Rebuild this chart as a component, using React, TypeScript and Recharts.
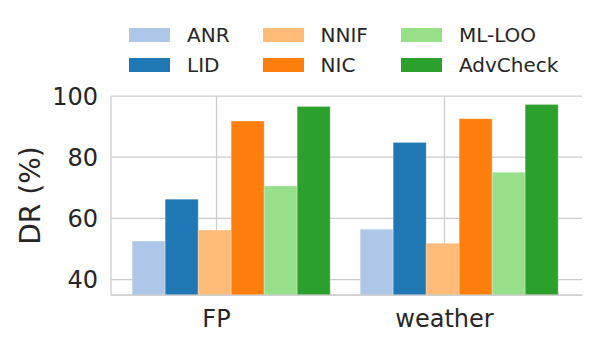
import { BarChart, Bar, XAxis, YAxis, CartesianGrid, Legend } from 'recharts';

const categories = ['FP', 'weather'];
const anr = [52.6, 56.5];
const lid = [66.3, 84.8];
const nnif = [56.2, 51.9];
const nic = [91.8, 92.6];
const mlLoo = [70.6, 75.1];
const advCheck = [96.6, 97.2];
const yTicks = [40, 60, 80, 100];

const series = [
    { key: 'ANR', values: anr, color: '#aec7e8' },
    { key: 'LID', values: lid, color: '#1f77b4' },
    { key: 'NNIF', values: nnif, color: '#ffbb78' },
    { key: 'NIC', values: nic, color: '#ff7f0e' },
    { key: 'ML-LOO', values: mlLoo, color: '#98df8a' },
    { key: 'AdvCheck', values: advCheck, color: '#2ca02c' },
];
const seriesOrder = series.map(s => s.key);

const data = categories.map((name, i) => {
    const row: Record<string, string | number> = { name };
    series.forEach(s => { row[s.key] = s.values[i]; });
    return row;
});

const FONT = '"DejaVu Sans", sans-serif';
const TEXT = '#262626';
const EDGE = '#cccccc';
const X_PAD = 7.5;
// matplotlib puts the tick a bit left of the group centre
const TICK_SHIFT = -16;

const XTick = (props: any) => {
    const { x, y, payload } = props;
    return (
        <text x={x + TICK_SHIFT} y={y} dy="0.71em" textAnchor="middle"
            fontFamily={FONT} fontSize={24} fill={TEXT}>
            {payload.value}
        </text>
    );
};

const LegendGrid = (props: any) => {
    const items = (props.payload || []).slice()
        .sort((a: any, b: any) => seriesOrder.indexOf(a.value) - seriesOrder.indexOf(b.value));
    return (
        <div style={{
            display: 'grid', gridTemplateRows: '30px 30px', gridAutoFlow: 'column',
            gridAutoColumns: 'max-content', columnGap: 33, whiteSpace: 'nowrap',
            fontFamily: FONT, fontSize: 20, color: TEXT,
        }}>
            {items.map((it: any) => (
                <div key={it.value} style={{ display: 'flex', alignItems: 'center' }}>
                    <span style={{ width: 41, height: 14, background: it.color, marginRight: 17, display: 'inline-block' }} />
                    <span>{it.value}</span>
                </div>
            ))}
        </div>
    );
};

const YLabel = (props: any) => {
    const { viewBox } = props;
    const cy = viewBox.y + viewBox.height / 2;
    return (
        <text x={22} y={cy} transform={`rotate(-90, 22, ${cy})`} textAnchor="middle"
            dominantBaseline="central" fontFamily={FONT} fontSize={28} fill={TEXT}>
            DR (%)
        </text>
    );
};

// vertical grid lines sit under the (shifted) tick labels
const gridX = ({ offset }: any) => {
    const band = (offset.width - 2 * X_PAD) / categories.length;
    return categories.map((_, i) => offset.left + X_PAD + band * (i + 0.5) + TICK_SHIFT);
};

export default function App() {
    return (
        <BarChart width={584} height={334} data={data}
            margin={{ top: 88, right: 10, left: 28, bottom: 7 }}
            barCategoryGap="6%" barGap={0}>
            <CartesianGrid stroke={EDGE} strokeWidth={1.25} verticalCoordinatesGenerator={gridX} />
            <XAxis dataKey="name" height={40} padding={{ left: X_PAD, right: X_PAD }}
                tick={<XTick />} tickLine={false} tickSize={0} tickMargin={15}
                axisLine={{ stroke: EDGE, strokeWidth: 1.25 }} />
            <XAxis xAxisId="top" orientation="top" dataKey="name" height={0} tick={false}
                tickLine={false} axisLine={{ stroke: EDGE, strokeWidth: 1.25 }} />
            <YAxis domain={[35, 100]} ticks={yTicks} width={75} allowDataOverflow
                tick={{ fontFamily: FONT, fontSize: 24, fill: TEXT }} tickLine={false}
                tickSize={0} tickMargin={13} axisLine={{ stroke: EDGE, strokeWidth: 1.25 }}
                label={<YLabel />} />
            <YAxis yAxisId="right" orientation="right" width={0} tick={false} tickLine={false}
                axisLine={{ stroke: EDGE, strokeWidth: 1.25 }} />
            <Legend verticalAlign="middle" content={<LegendGrid />} itemSorter={null as any}
                wrapperStyle={{ top: 12, left: 121, width: 460 }} />
            {series.map(s => (
                <Bar key={s.key} dataKey={s.key} name={s.key} fill={s.color}
                    stroke="#ffffff" strokeOpacity={0.25} strokeWidth={1}
                    isAnimationActive={false} />
            ))}
        </BarChart>
    );
}
